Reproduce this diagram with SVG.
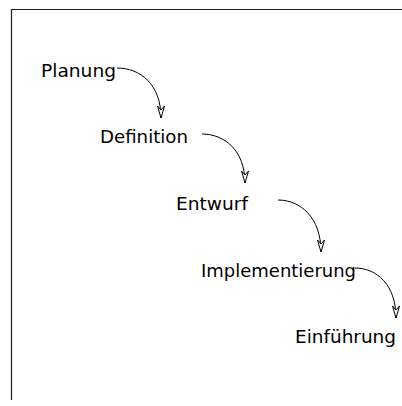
<svg xmlns="http://www.w3.org/2000/svg" width="402" height="406" viewBox="0 0 402 406">
<style>
text{font-family:"DejaVu Sans","Liberation Sans",sans-serif;font-size:17px;fill:#000}
.c{fill:none;stroke:#000;stroke-width:1}
.f{fill:none;stroke:#222;stroke-width:1.2}
</style>
<defs>
<marker id="ah" markerUnits="userSpaceOnUse" markerWidth="16" markerHeight="12" viewBox="-13 -6 16 12" refX="0" refY="0" orient="auto">
<path d="M0,0 L-12,-3.5 L-8,0 L-12,3.5 Z" fill="#fff" stroke="#000" stroke-width="1"/>
</marker>
</defs>
<g id="frame"><path class="f" d="M402,9.5 H11.5 V400"/></g>
<g id="planung"><text x="41" y="77" textLength="75" lengthAdjust="spacingAndGlyphs">Planung</text></g>
<g id="definition"><text x="100" y="143" textLength="88" lengthAdjust="spacingAndGlyphs">Definition</text></g>
<g id="entwurf"><text x="176" y="210" textLength="72" lengthAdjust="spacingAndGlyphs">Entwurf</text></g>
<g id="implementierung"><text x="201" y="277" textLength="155" lengthAdjust="spacingAndGlyphs">Implementierung</text></g>
<g id="einfuehrung"><text x="295" y="343" textLength="101" lengthAdjust="spacingAndGlyphs">Einführung</text></g>
<g id="connectors">
<path class="c" marker-end="url(#ah)" d="M117,68 C140,68 161,84 161,118"/>
<path class="c" marker-end="url(#ah)" d="M202,134 C224,134 245,150 245,183"/>
<path class="c" marker-end="url(#ah)" d="M278,200 C300,200 321,217 321,252"/>
<path class="c" marker-end="url(#ah)" d="M355,268 C376,268 396,284 396,318"/>
</g>
</svg>
